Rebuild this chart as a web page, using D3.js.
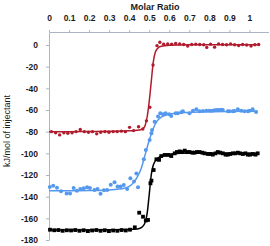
<!DOCTYPE html>
<meta charset="utf-8">
<head>
    <title>ITC titration</title>
    <script src="https://cdn.jsdelivr.net/npm/d3@7"></script>
</head>

<style>
    body { margin: 0; background: #fff; }
    text { font-family: "Liberation Sans", Arial, sans-serif; fill: #1a1a1a; }
    .axis path, .axis line { stroke: #aab6c4; }
    .axis text { font-size: 8.5px; font-weight: bold; }
</style>

<svg></svg>

<script>
    // chart size
    var vWidth = 270;
    var vHeight = 246;

    // tick values
    var xTicks = [0, 0.1, 0.2, 0.3, 0.4, 0.5, 0.6, 0.7, 0.8, 0.9, 1];
    var yTicks = [0, -20, -40, -60, -80, -100, -120, -140, -160, -180];

    // red series (points)
    var redX = [0.012, 0.033, 0.053, 0.074, 0.094, 0.115, 0.135, 0.156, 0.176, 0.197, 0.217, 0.238, 0.258, 0.279, 0.299, 0.320, 0.340, 0.361, 0.381, 0.402, 0.422, 0.447, 0.468, 0.486, 0.503, 0.519, 0.539, 0.553, 0.572, 0.592, 0.612, 0.632, 0.652, 0.672, 0.692, 0.712, 0.732, 0.752, 0.772, 0.787, 0.806, 0.826, 0.846, 0.866, 0.886, 0.906, 0.926, 0.946, 0.966, 0.986, 1.008, 1.027, 1.046];
    var redY = [-80, -81, -83, -81, -81.5, -81, -80, -78, -80, -80.5, -80, -82, -80.5, -80, -80.5, -80, -80, -79.5, -80, -76, -79, -75.5, -77.5, -70, -57.5, -18.5, -0.6, 2.5, 0.8, 1, 0.8, 1.5, 1, 0.5, -1, 0.5, 0.8, 0.5, 0.3, -2.2, 0.8, -2, 1, 0.5, 0.3, 1, 0.3, -0.5, 0.5, 0, -0.9, 0.3, 0.5];

    // red series (fit)
    var redFitX = [0, 0.1, 0.2, 0.3, 0.4, 0.44, 0.46, 0.47, 0.48, 0.49, 0.50, 0.51, 0.52, 0.53, 0.54, 0.56, 0.6, 0.7, 0.8, 1.05];
    var redFitY = [-80, -80, -79.8, -79.6, -79.2, -78.8, -78, -77, -74, -66, -52, -34, -16, -7, -3.5, -1.2, -0.3, 0.2, 0.3, 0.3];

    // blue series (points)
    var blueX = [0.004, 0.021, 0.040, 0.060, 0.088, 0.105, 0.123, 0.139, 0.156, 0.173, 0.190, 0.204, 0.227, 0.242, 0.257, 0.274, 0.290, 0.308, 0.327, 0.342, 0.357, 0.373, 0.390, 0.406, 0.424, 0.436, 0.444, 0.473, 0.483, 0.502, 0.511, 0.514, 0.527, 0.544, 0.555, 0.569, 0.582, 0.600, 0.610, 0.632, 0.643, 0.660, 0.668, 0.701, 0.718, 0.735, 0.751, 0.768, 0.785, 0.801, 0.814, 0.826, 0.837, 0.847, 0.859, 0.867, 0.892, 0.900, 0.917, 0.925, 0.942, 0.959, 0.975, 0.992, 1.000, 1.016, 1.033];
    var blueY = [-131, -130, -131.7, -135, -137, -137, -132, -134.5, -133, -132.3, -131.3, -132, -133.8, -133, -137.3, -134, -133.8, -129, -126.7, -130.5, -130.5, -129.2, -133, -123, -126, -118.5, -131.4, -105.5, -97, -87.7, -81.5, -78.5, -70.8, -66, -63, -64, -63, -64, -65.5, -63, -63, -62.1, -61.2, -63, -60.6, -59.4, -61.2, -61, -60.8, -60.6, -60.6, -60.3, -60, -60, -59.7, -60, -61.2, -61.2, -61.2, -60.9, -59.4, -60.6, -61.2, -61.2, -60.6, -59.4, -61.8];

    // blue series (fit)
    var blueFitX = [0, 0.1, 0.2, 0.3, 0.35, 0.38, 0.40, 0.42, 0.44, 0.46, 0.48, 0.50, 0.52, 0.54, 0.56, 0.58, 0.62, 0.7, 0.8, 0.9, 1.04];
    var blueFitY = [-134.5, -134.5, -134.3, -133.8, -133, -132, -130.5, -127.5, -122, -114, -101, -88, -77, -70, -66.5, -64.8, -63.3, -62.2, -61.6, -61.3, -61.2];

    // black series (points)
    var blackX = [0.005, 0.026, 0.047, 0.068, 0.089, 0.110, 0.131, 0.152, 0.173, 0.194, 0.215, 0.236, 0.257, 0.278, 0.299, 0.320, 0.341, 0.362, 0.383, 0.404, 0.428, 0.450, 0.469, 0.483, 0.494, 0.506, 0.511, 0.522, 0.536, 0.549, 0.560, 0.577, 0.594, 0.610, 0.627, 0.638, 0.652, 0.665, 0.677, 0.688, 0.701, 0.715, 0.726, 0.738, 0.751, 0.765, 0.776, 0.793, 0.804, 0.817, 0.831, 0.842, 0.854, 0.867, 0.881, 0.892, 0.904, 0.917, 0.930, 0.942, 0.954, 0.967, 0.980, 0.992, 1.003, 1.016, 1.030, 1.041];
    var blackY = [-170.5, -171, -170.8, -171.5, -171, -171.2, -170.8, -171.5, -171, -171.8, -171.2, -170.8, -171.5, -171, -171.8, -171.2, -171.5, -170.8, -171.2, -170.5, -168.3, -154.8, -158.5, -162, -161.5, -127.7, -125.2, -115.4, -105.5, -106, -102.5, -101.5, -101.5, -102.5, -100, -98.8, -98.2, -98.8, -97.5, -98.8, -98.8, -99.4, -99.4, -98.8, -98.8, -99.4, -100, -100.6, -100.6, -101.2, -100, -98.8, -99.4, -100, -101.2, -101.2, -100.6, -100, -100, -99.4, -100, -100.6, -100, -101.2, -101.2, -100.6, -101.2, -100];

    // black series (fit)
    var blackFitX = [0, 0.1, 0.2, 0.3, 0.4, 0.44, 0.46, 0.47, 0.48, 0.49, 0.50, 0.51, 0.52, 0.53, 0.55, 0.58, 0.62, 0.7, 0.8, 0.9, 1.04];
    var blackFitY = [-170.8, -170.8, -170.7, -170.6, -170.3, -169.8, -168.5, -167, -163.5, -155, -138, -120, -111, -107, -103.5, -101.5, -100.4, -99.8, -99.7, -99.8, -100];

    var svg = d3.select('svg')
        .attr('width', vWidth)
        .attr('height', vHeight);

    // scales
    var x = d3.scaleLinear().domain([0, 1.095]).range([49, 268.5]);
    var y = d3.scaleLinear().domain([-180, 12]).range([240, 32]);

    // axes
    svg.append('g')
        .attr('class', 'axis')
        .attr('transform', 'translate(0,' + y(12) + ')')
        .call(d3.axisTop(x).tickValues(xTicks).tickSize(2).tickSizeOuter(0).tickPadding(9)
            .tickFormat(function (d) { return String(d); }));

    svg.append('g')
        .attr('class', 'axis')
        .attr('transform', 'translate(' + x(0) + ',0)')
        .call(d3.axisLeft(y).tickValues(yTicks).tickSize(3).tickSizeOuter(0).tickPadding(8)
            .tickFormat(function (d) { return String(d); }));

    d3.selectAll('.axis text').attr('fill', '#1a1a1a');

    // titles
    svg.append('text')
        .attr('x', 155).attr('y', 9.5)
        .attr('text-anchor', 'middle')
        .style('font-size', '9px').style('font-weight', 'bold')
        .text('Molar Ratio');

    svg.append('text')
        .attr('transform', 'translate(9.5,131) rotate(-90)')
        .attr('text-anchor', 'middle')
        .style('font-size', '9px')
        .text('kJ/mol of injectant');

    // series
    var series = [
        {px: redX, py: redY, fx: redFitX, fy: redFitY, color: '#b01c2e', shape: 'circle', r: 1.7},
        {px: blueX, py: blueY, fx: blueFitX, fy: blueFitY, color: '#5599ee', shape: 'circle', r: 2},
        {px: blackX, py: blackY, fx: blackFitX, fy: blackFitY, color: '#000000', shape: 'square', r: 1.9}
    ];

    var line = d3.line()
        .x(function (d) { return x(d[0]); })
        .y(function (d) { return y(d[1]); })
        .curve(d3.curveMonotoneX);

    series.forEach(function (s) {
        var g = svg.append('g');
        var pts = d3.zip(s.px, s.py);
        if (s.shape === 'square') {
            g.selectAll('rect').data(pts).enter().append('rect')
                .attr('x', function (d) { return x(d[0]) - s.r; })
                .attr('y', function (d) { return y(d[1]) - s.r; })
                .attr('width', s.r * 2).attr('height', s.r * 2)
                .attr('fill', s.color);
        } else {
            g.selectAll('circle').data(pts).enter().append('circle')
                .attr('cx', function (d) { return x(d[0]); })
                .attr('cy', function (d) { return y(d[1]); })
                .attr('r', s.r)
                .attr('fill', s.color);
        }
        g.append('path')
            .datum(d3.zip(s.fx, s.fy))
            .attr('d', line)
            .attr('fill', 'none')
            .attr('stroke', s.color)
            .attr('stroke-width', 1.5);
    });
</script>
